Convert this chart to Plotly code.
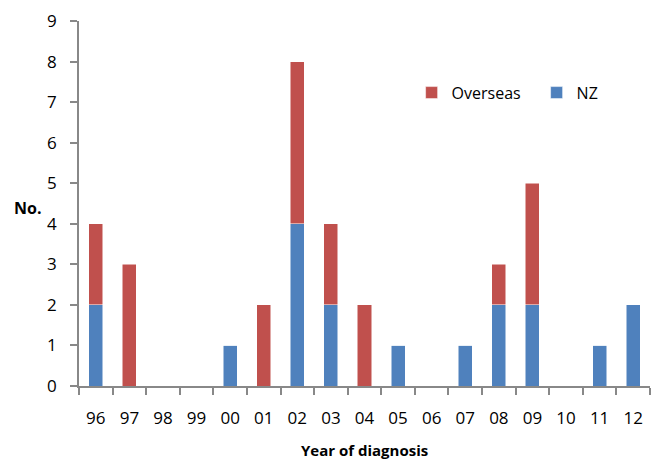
import plotly.graph_objects as go

years = ["96", "97", "98", "99", "00", "01", "02", "03", "04", "05", "06", "07", "08", "09", "10", "11", "12"]
nz = [2, 0, 0, 0, 1, 0, 4, 2, 0, 1, 0, 1, 2, 2, 0, 1, 2]
overseas = [2, 3, 0, 0, 0, 2, 4, 2, 2, 0, 0, 0, 1, 3, 0, 0, 0]

FONT = "Open Sans"
fig = go.Figure()
fig.add_trace(go.Bar(x=years, y=nz, name="NZ", marker=dict(color="#4F81BD", line=dict(color="#FFFFFF", width=0.5))))
fig.add_trace(go.Bar(x=years, y=overseas, name="Overseas", marker=dict(color="#C0504D", line=dict(color="#FFFFFF", width=0.5))))

fig.update_layout(
    barmode="stack",
    bargap=0.58,
    width=651, height=461,
    margin=dict(l=79, r=1, t=21, b=75, autoexpand=False),
    paper_bgcolor="white", plot_bgcolor="white",
    font=dict(family=FONT, size=17, color="#000000"),
    showlegend=True,
    legend=dict(orientation="h", traceorder="reversed", x=0.5825, y=0.8036, xanchor="left", yanchor="middle",
                font=dict(family=FONT, size=16), entrywidth=80, entrywidthmode="pixels",
                bgcolor="rgba(0,0,0,0)"),
    xaxis=dict(type="category", showline=True, linecolor="#888888", linewidth=1.5, automargin=False,
               ticks="outside", tickson="boundaries", ticklen=7, tickcolor="#888888", tickwidth=1.5,
               showgrid=False, ticklabelstandoff=16, tickangle=0, tickfont=dict(size=17)),
    yaxis=dict(range=[0, 9], dtick=1, showline=True, linecolor="#888888", linewidth=1.5, automargin=False,
               ticks="outside", ticklen=7, tickcolor="#888888", tickwidth=1.5,
               showgrid=False, zeroline=False, ticklabelstandoff=10, tickfont=dict(size=17)),
    annotations=[
        dict(text="<b>No.</b>", xref="paper", yref="paper", x=-0.091, y=0.487, xanchor="center", yanchor="middle",
             showarrow=False, font=dict(family=FONT, size=16)),
        dict(text="<b>Year of diagnosis</b>", xref="paper", yref="paper", x=0.5, y=-0.175, xanchor="center", yanchor="middle",
             showarrow=False, font=dict(family=FONT, size=15)),
    ],
)
fig.write_html("out.html", config={"displayModeBar": False}, post_script="document.body.style.margin='0px';")
